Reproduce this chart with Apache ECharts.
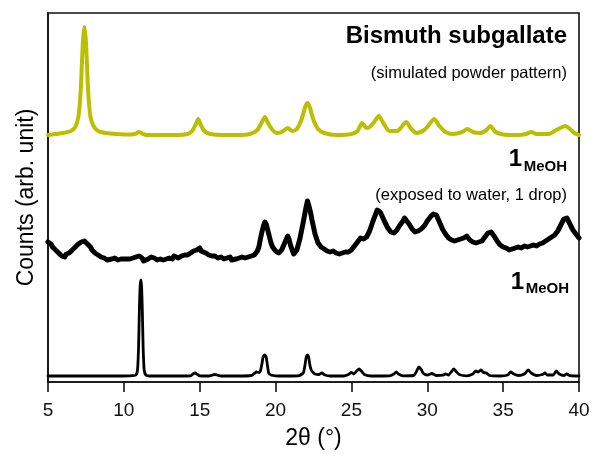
<!DOCTYPE html>
<html>
<head>
<meta charset="utf-8">
<script src="https://cdn.jsdelivr.net/npm/echarts@6/dist/echarts.min.js"></script>
<style>html,body{margin:0;padding:0;background:#fff}#c{width:594px;height:456px}</style>
</head>
<body>
<div id="c"></div>
<script>
// Tick labels of the 2θ axis
var xTicks = [5, 10, 15, 20, 25, 30, 35, 40];

// Simulated pattern of bismuth subgallate (offset counts, arb. unit)
var simulated = [
[5.0,247],[5.5,248],[6.0,249],[6.5,251],[6.8,255],[7.0,265],[7.15,290],[7.3,340],[7.4,355],[7.5,340],[7.65,290],[7.8,265],[8.0,256],[8.3,251],[8.8,249],[9.5,248],[10.5,247.5],[10.8,248.5],[11.0,250],[11.2,248.5],[11.5,247],[12.5,247],[13.5,247],[14.2,248],[14.5,251],[14.75,258],[14.9,263],[15.05,258],[15.3,251],[15.7,248],[16.5,247],[17.5,247],[18.3,248],[18.8,252],[19.1,260],[19.3,265],[19.5,259],[19.8,252],[20.1,249],[20.4,250],[20.8,254],[21.1,251],[21.4,253],[21.7,262],[21.95,275],[22.1,279],[22.25,275],[22.5,262],[22.8,253],[23.2,249],[24.0,247],[25.0,248],[25.4,251],[25.7,259],[26.0,254],[26.2,255],[26.5,260],[26.8,266],[27.1,259],[27.5,251],[28.0,251],[28.3,255],[28.6,260],[28.9,254],[29.3,249],[29.8,252],[30.1,257],[30.45,263],[30.8,256],[31.2,250],[31.7,248],[32.3,250],[32.65,253],[33.0,250],[33.5,249],[33.9,252],[34.15,256],[34.5,250],[35.0,247.5],[36.0,247],[36.5,248],[36.85,250],[37.2,248],[38.0,248],[38.5,252],[38.9,255],[39.1,256],[39.4,253],[39.7,249],[40.0,247]
];

// 1_MeOH exposed to water (1 drop)
var exposed = [
[5.0,140],[5.1,138],[5.2,138],[5.3,135],[5.4,135],[5.5,132],[5.6,132],[5.7,129],[5.8,129],[5.9,126],[6.0,127],[6.1,125],[6.2,128],[6.3,127],[6.4,129],[6.5,129],[6.6,132],[6.7,131],[6.8,135],[6.9,135],[7.0,138],[7.1,137],[7.2,140],[7.3,139],[7.4,141],[7.5,139],[7.6,138],[7.7,136],[7.8,135],[7.9,132],[8.0,132],[8.1,129],[8.2,129],[8.3,127],[8.4,127],[8.5,125],[8.6,126],[8.7,124],[8.8,124],[8.9,122],[9.0,124],[9.2,123],[9.3,121],[9.4,124],[9.5,122],[9.6,122],[9.7,124],[9.8,123],[10.0,123],[10.1,121],[10.2,123],[10.4,123],[10.5,121],[10.6,124],[10.8,125],[10.9,123],[11.0,126],[11.1,125],[11.2,124],[11.3,121],[11.4,122],[11.6,123],[11.7,121],[11.8,125],[12.0,124],[12.1,126],[12.2,122],[12.4,123],[12.5,121],[12.6,122],[12.8,123],[12.9,121],[13.0,124],[13.2,123],[13.3,126],[13.4,124],[13.6,124],[13.7,122],[13.8,126],[14.0,127],[14.1,125],[14.2,127],[14.4,129],[14.5,128],[14.6,131],[14.8,132],[14.9,131],[15.0,134],[15.1,131],[15.2,132],[15.4,129],[15.5,130],[15.6,127],[15.8,126],[15.9,124],[16.0,126],[16.2,124],[16.4,125],[16.5,123],[16.6,123],[16.8,124],[17.0,125],[17.1,122],[17.2,124],[17.4,123],[17.6,124],[17.7,126],[17.8,125],[18.0,124],[18.2,125],[18.4,126],[18.6,127],[18.8,131],[18.9,135],[19.0,143],[19.1,150],[19.2,156],[19.3,160],[19.4,157],[19.5,151],[19.6,145],[19.7,139],[19.8,135],[20.0,131],[20.2,129],[20.4,132],[20.6,139],[20.8,146],[20.9,142],[21.0,136],[21.2,128],[21.4,132],[21.6,143],[21.8,158],[21.9,166],[22.0,174],[22.1,181],[22.2,176],[22.3,170],[22.4,162],[22.6,148],[22.8,139],[23.0,135],[23.1,136],[23.2,133],[23.4,131],[23.5,132],[23.6,130],[23.8,131],[24.0,129],[24.1,127],[24.2,128],[24.4,129],[24.6,130],[24.8,130],[25.0,132],[25.2,136],[25.4,140],[25.5,138],[25.6,144],[25.8,143],[26.0,145],[26.2,151],[26.4,160],[26.6,168],[26.7,172],[26.8,174],[26.9,170],[27.0,169],[27.2,160],[27.4,154],[27.6,150],[27.8,149],[28.0,152],[28.2,157],[28.4,161],[28.5,164],[28.6,163],[28.8,158],[29.0,153],[29.2,150],[29.4,151],[29.6,153],[29.8,156],[30.0,161],[30.2,165],[30.4,168],[30.5,169],[30.6,167],[30.8,160],[31.0,153],[31.2,148],[31.4,144],[31.6,142],[31.8,141],[32.0,142],[32.2,143],[32.4,144],[32.6,146],[32.7,144],[32.8,142],[33.0,140],[33.2,139],[33.4,140],[33.6,141],[33.8,145],[34.0,149],[34.2,150],[34.4,146],[34.6,141],[34.8,137],[35.0,135],[35.2,134],[35.4,132],[35.6,133],[35.8,134],[36.0,135],[36.2,134],[36.4,136],[36.6,135],[36.8,136],[37.0,137],[37.2,136],[37.4,138],[37.6,139],[37.8,141],[38.0,143],[38.2,145],[38.4,147],[38.6,151],[38.8,157],[39.0,163],[39.1,165],[39.2,164],[39.4,158],[39.6,152],[39.8,148],[40.0,144]
];

// 1_MeOH as synthesised
var pristine = [
[5.0,6],[6.0,6],[7.0,6],[8.0,6],[9.0,6],[10.0,6],[10.6,6.3],[10.8,7],[10.9,12],[10.97,35],[11.02,70],[11.07,95],[11.12,102],[11.17,95],[11.22,70],[11.27,35],[11.34,12],[11.45,7],[11.7,6],[12.5,6],[13.5,6],[14.4,6.2],[14.55,8],[14.7,9],[14.85,7.5],[15.0,6.2],[15.6,6],[15.85,7],[16.0,7.5],[16.15,7],[16.4,6],[17.5,6],[18.4,6.5],[18.6,8.5],[18.75,10],[18.9,9.5],[19.0,11],[19.1,18],[19.18,25],[19.28,27],[19.38,25],[19.46,17],[19.55,9],[19.7,7],[20.0,6.2],[20.5,6],[21.5,6.2],[21.75,8],[21.85,10],[21.95,18],[22.02,25],[22.1,27],[22.18,25],[22.26,17],[22.35,12],[22.45,10],[22.6,8],[22.85,7.5],[23.05,9],[23.25,7],[23.6,6],[24.5,6],[24.8,7.5],[25.0,9.5],[25.15,8],[25.35,11],[25.5,13],[25.65,11],[25.85,7.5],[26.3,6],[27.5,6.2],[27.8,8],[27.95,10],[28.1,8],[28.4,6.2],[29.1,6.5],[29.3,11],[29.45,15],[29.6,12.5],[29.75,8.5],[30.0,7],[30.3,8.5],[30.6,6.5],[31.0,6.8],[31.2,8],[31.4,7],[31.6,10.5],[31.75,13],[31.9,10.5],[32.1,7.5],[32.6,6.2],[33.0,8],[33.2,11],[33.35,10],[33.55,12],[33.7,9.5],[33.9,9],[34.1,6.5],[34.8,6],[35.3,7],[35.5,10],[35.7,8],[36.0,6.5],[36.4,8],[36.65,12],[36.85,9],[37.2,6.5],[37.6,7.5],[37.75,9],[37.9,7],[38.3,7],[38.5,11],[38.7,8],[39.0,6.5],[39.2,8],[39.4,6.3],[40.0,6]
];

var FONT = '"Liberation Sans", Arial, Helvetica, sans-serif';
var chart = echarts.init(document.getElementById('c'), null, {renderer: 'canvas'});

function txt(x, y, s, size, bold, align) {
  return {
    type: 'text', x: x, y: y, silent: true,
    style: {
      text: s, fill: '#000',
      font: (bold ? 'bold ' : '') + size + 'px ' + FONT,
      align: align, verticalAlign: 'middle',
      textAlign: align, textVerticalAlign: 'middle'
    }
  };
}

chart.setOption({
  animation: false,
  backgroundColor: '#ffffff',
  grid: {left: 48, right: 15, top: 13, bottom: 74, show: true, borderColor: '#111', borderWidth: 1.6, backgroundColor: 'transparent'},
  xAxis: {
    type: 'value', min: xTicks[0], max: xTicks[xTicks.length - 1], interval: 5,
    name: '2θ (°)', nameLocation: 'middle', nameGap: 45,
    nameTextStyle: {fontSize: 23, color: '#000', fontFamily: FONT},
    axisLine: {show: true, onZero: false, lineStyle: {color: '#111', width: 1.6}},
    axisTick: {show: true, inside: false, length: 10, lineStyle: {color: '#111', width: 1.6}},
    axisLabel: {fontSize: 19, color: '#111', fontFamily: FONT, margin: 19},
    splitLine: {show: false}
  },
  yAxis: {
    type: 'value', min: 0, max: 369,
    name: 'Counts (arb. unit)', nameLocation: 'middle', nameGap: 10, nameRotate: 90,
    nameTextStyle: {fontSize: 23, color: '#000', fontFamily: FONT},
    axisLine: {show: true, lineStyle: {color: '#111', width: 1.6}},
    axisTick: {show: false}, axisLabel: {show: false}, splitLine: {show: false}
  },
  series: [
    {type: 'line', data: simulated, showSymbol: false, smooth: 0.25, clip: true,
     lineStyle: {color: '#bcbe00', width: 4, join: 'round', cap: 'round'}},
    {type: 'line', data: exposed, showSymbol: false, smooth: false, clip: true,
     lineStyle: {color: '#000', width: 5, join: 'round', cap: 'round'}},
    {type: 'line', data: pristine, showSymbol: false, smooth: 0.2, clip: true,
     lineStyle: {color: '#000', width: 2.8, join: 'round', cap: 'round'}}
  ],
  graphic: [
    txt(567, 36, 'Bismuth subgallate', 24, true, 'right'),
    txt(567, 73, '(simulated powder pattern)', 16.5, false, 'right'),
    txt(522, 159, '1', 24, true, 'right'),
    txt(567, 167, 'MeOH', 15, true, 'right'),
    txt(567, 195, '(exposed to water, 1 drop)', 16.5, false, 'right'),
    txt(524, 282, '1', 24, true, 'right'),
    txt(569, 289, 'MeOH', 15, true, 'right')
  ]
});
</script>
</body>
</html>
